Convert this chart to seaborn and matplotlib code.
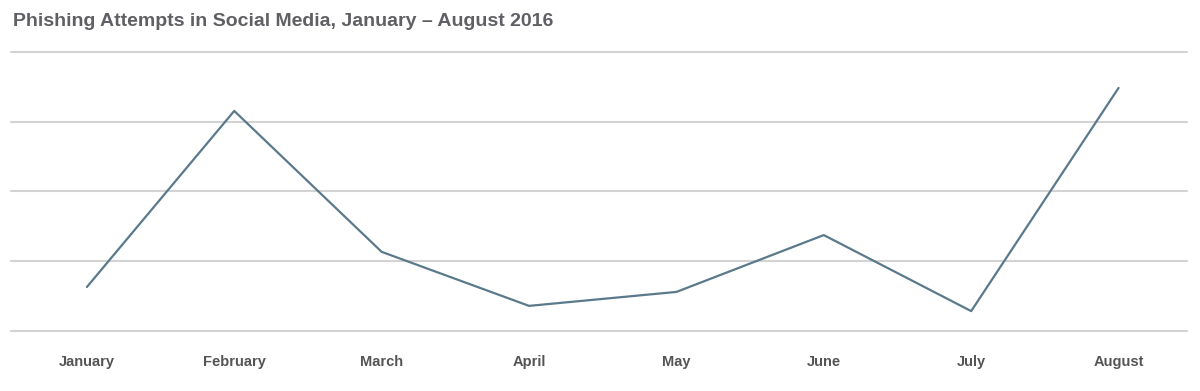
import matplotlib
matplotlib.use('Agg')
import matplotlib.pyplot as plt
import seaborn as sns
import pandas as pd

# Data (no y-axis labels shown, relative units)
months = ['January', 'February', 'March', 'April', 'May', 'June', 'July', 'August']
attempts = [12.6, 63.1, 22.7, 7.2, 11.2, 27.5, 5.7, 69.7]
grid_levels = [0, 20, 40, 60, 80]

sns.set_theme(style='white')
plt.rcParams['font.family'] = ['Liberation Sans', 'DejaVu Sans']

df = pd.DataFrame({'month': months, 'attempts': attempts})
df['pos'] = range(len(months))

fig = plt.figure(figsize=(12, 3.91), dpi=100)
ax = fig.add_axes([0.009, 0.1535, 0.98, 0.7135])

for lvl in grid_levels:
    ax.axhline(lvl, color='#d3d3d3', linewidth=1.5, clip_on=False, zorder=0)

sns.lineplot(data=df, x='pos', y='attempts', ax=ax, color='#5a7a8c',
             linewidth=1.6, zorder=3)

ax.set_xlim(-0.516, 7.463)
ax.set_ylim(grid_levels[0], grid_levels[-1])
ax.set_xticks(df['pos'])
ax.set_xticklabels(months, fontsize=10.5, fontweight='bold', color='#555555')
ax.tick_params(axis='x', length=0, pad=17)
ax.set_yticks([])
ax.set_xlabel('')
ax.set_ylabel('')
for s in ax.spines.values():
    s.set_visible(False)

fig.text(0.011, 0.946, 'Phishing Attempts in Social Media, January \u2013 August 2016',
         fontsize=14, fontweight='bold', color='#5f5f64', va='center', ha='left')

fig.savefig('out.png', dpi=100, facecolor='white')
